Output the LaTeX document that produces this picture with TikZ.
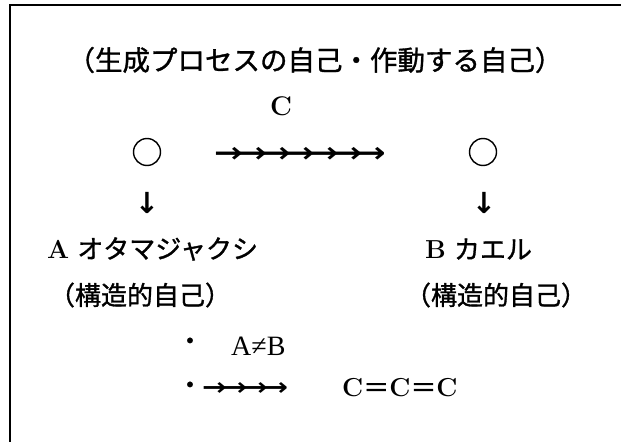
\documentclass[tikz,border=0pt]{standalone}
\usepackage{fontspec}
\newfontfamily\jp[FakeBold=1.2]{Noto Sans CJK JP}
\newfontfamily\arrowfont[FakeStretch=1.22]{DejaVu Sans}
\newfontfamily\downfont{DejaVu Sans}
\newfontfamily\serifb{Liberation Serif}
\newcommand\rarr[1]{→\kern#1}
\begin{document}
\begin{tikzpicture}[x=1pt,y=-1pt,
  txt/.style={inner sep=0pt, font=\fontsize{26}{26}\selectfont},
  jptxt/.style={inner sep=0pt, font=\fontsize{26}{26}\selectfont\jp},
  arr/.style={inner sep=0pt, font=\fontsize{28}{28}\selectfont\arrowfont\bfseries},
  darr/.style={inner sep=0pt, font=\fontsize{29}{29}\selectfont\downfont\bfseries},
  ring/.style={circle, draw, line width=1.4pt, minimum size=27pt, inner sep=0pt},
  frame/.style={line width=2pt}]
\useasboundingbox (0,0) rectangle (621,442);
\coordinate (fTR) at (621,5);
\coordinate (fTL) at (10,5);
\coordinate (fBL) at (10,442);
\draw[frame] (fTR) -- (fTL) -- (fBL);
\node[jptxt, font=\fontsize{27.5}{27.5}\selectfont\jp] (title) at (315,60) {（生成プロセスの自己・作動する自己）};
\node[txt, font=\fontsize{27}{27}\selectfont\bfseries] (C) at (281,106) {C};
\node[ring] (cL) at (147,152) {};
\node[ring] (cR) at (483,152) {};
\node[arr, anchor=west] (chain) at (214,155) {\rarr{-4.8pt}\rarr{-4.8pt}\rarr{-4.8pt}\rarr{-4.8pt}\rarr{-4.8pt}\rarr{-4.8pt}→};
\node[darr] (dL) at (147,203) {↓};
\node[darr] (dR) at (484,203) {↓};
\node[jptxt, anchor=west] (A) at (47,249) {{\bfseries\rmfamily A}\hspace{8pt}オタマジャクシ};
\node[jptxt, anchor=west] (B) at (425,249) {{\bfseries\rmfamily B}\hspace{8pt}カエル};
\node[jptxt] (sA) at (140,295) {（構造的自己）};
\node[jptxt] (sB) at (496,295) {（構造的自己）};
\node[jptxt] (b1) at (190,344) {・};
\node[txt, anchor=west, font=\fontsize{28}{28}\selectfont\serifb] (neq) at (231,346) {A≠B};
\node[jptxt] (b2) at (190,388) {・};
\node[arr, anchor=west, font=\fontsize{24}{24}\selectfont\arrowfont\bfseries] (chain2) at (202,389) {\rarr{-4.1pt}\rarr{-4.1pt}\rarr{-4.1pt}→};
\node[jptxt, anchor=west] (ccc) at (342,388) {{\bfseries\rmfamily C}＝{\bfseries\rmfamily C}＝{\bfseries\rmfamily C}};
\end{tikzpicture}
\end{document}
